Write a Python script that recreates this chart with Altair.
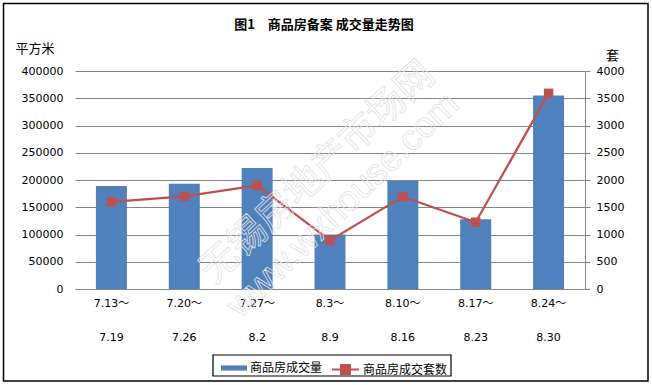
import altair as alt
import pandas as pd

# ---- data ----
period_start = ["7.13～", "7.20～", "7.27～", "8.3～", "8.10～", "8.17～", "8.24～"]
period_end = ["7.19", "7.26", "8.2", "8.9", "8.16", "8.23", "8.30"]
area_sold = [189000, 193000, 222000, 100000, 198000, 128000, 355000]   # 平方米
units_sold = [1600, 1700, 1900, 890, 1695, 1225, 3590]                 # 套

title_text = "图1　商品房备案 成交量走势图"
left_unit = "平方米"
right_unit = "套"
bar_name = "商品房成交量"
line_name = "商品房成交套数"

periods = [f"{a}|{b}" for a, b in zip(period_start, period_end)]
df = pd.DataFrame({"period": periods, "area": area_sold, "units": units_sold})

W, H = 510, 218
PAD_L, PAD_T = 75, 71
FONT_NUM = "DejaVu Sans, Noto Sans CJK SC"
FONT_CJK = "Noto Sans CJK SC"
GRID = "#868686"
BLUE = "#4F81BD"
RED = "#C0504D"

xenc = alt.X(
    "period:N", sort=periods, title=None,
    scale=alt.Scale(paddingInner=0, paddingOuter=0),
    axis=alt.Axis(
        labelExpr="split(datum.label, '|')", labelAngle=0, ticks=False,
        labelPadding=14, labelLineHeight=34, labelFont=FONT_NUM, labelFontSize=11,
        labelColor="#000", domainColor=GRID, labelBaseline="middle",
    ),
)

bars = alt.Chart(df).mark_bar(size=31, color=BLUE).encode(
    x=xenc,
    y=alt.Y(
        "area:Q",
        scale=alt.Scale(domain=[0, 400000]),
        axis=alt.Axis(
            orient="left", values=list(range(0, 400001, 50000)), format="d",
            ticks=False, domain=False, labelPadding=12, gridColor=GRID,
            labelFont=FONT_NUM, labelFontSize=11, labelColor="#000",
            title=left_unit, titleAngle=0, titleX=-60, titleY=-23,
            titleAlign="left", titleBaseline="middle", titleFont=FONT_CJK,
            titleFontSize=13, titleFontWeight="normal",
        ),
    ),
    color=alt.Color(
        "series:N", scale=alt.Scale(range=[BLUE]),
        legend=alt.Legend(
            orient="none", legendX=146, legendY=284, title=None,
            symbolType="M-1,-0.2H1V0.2H-1Z", symbolSize=676,
            symbolStrokeWidth=0, labelFont=FONT_CJK, labelFontSize=12,
            labelColor="#000", labelOffset=3, padding=0,
        ),
    ),
).transform_calculate(series=f"'{bar_name}'")

line = alt.Chart(df).mark_line(
    color=RED, strokeWidth=2.25,
    point=alt.OverlayMarkDef(shape="square", size=90, filled=True, color=RED, opacity=1),
).encode(
    x=xenc,
    y=alt.Y(
        "units:Q",
        scale=alt.Scale(domain=[0, 4000]),
        axis=alt.Axis(
            orient="right", values=list(range(0, 4001, 500)), format="d",
            tickSize=5, tickColor=GRID, domainColor=GRID, labelPadding=6, grid=False,
            labelFont=FONT_NUM, labelFontSize=11, labelColor="#000",
            title=right_unit, titleAngle=0, titleX=27, titleY=-16,
            titleAlign="center", titleBaseline="middle", titleFont=FONT_CJK,
            titleFontSize=13, titleFontWeight="normal",
        ),
    ),
    color=alt.Color(
        "series:N", scale=alt.Scale(range=[RED]),
        legend=alt.Legend(
            orient="none", legendX=256, legendY=284, title=None,
            symbolType="M-1,0H1M-0.33,-0.33H0.33V0.33H-0.33Z", symbolSize=729,
            symbolStrokeWidth=2, symbolFillColor=RED, symbolStrokeColor=RED,
            labelFont=FONT_CJK, labelFontSize=12, labelColor="#000",
            labelOffset=3, padding=0,
        ),
    ),
).transform_calculate(series=f"'{line_name}'")

one = pd.DataFrame({"k": [0]})

title = alt.Chart(one).mark_text(
    text=title_text, font=FONT_CJK, fontSize=13, fontWeight="bold", color="#000",
    align="center", baseline="middle",
).encode(x=alt.value(249), y=alt.value(-46))

wm_cn = alt.Chart(one).mark_text(
    text="无锡房地产市场网", font=FONT_CJK, fontSize=38, angle=317,
    fill="transparent", stroke="#e2e2e2", strokeWidth=0.8, align="center", baseline="middle",
).encode(x=alt.value(318 - PAD_L), y=alt.value(173 - PAD_T))

wm_en = alt.Chart(one).mark_text(
    text="www.wxhouse.com", font="Liberation Sans", fontSize=36, angle=316,
    fill="transparent", stroke="#e2e2e2", strokeWidth=0.8, align="center", baseline="middle",
).encode(x=alt.value(343 - PAD_L), y=alt.value(205 - PAD_T))

legend_box = alt.Chart(one).mark_rect(
    fill="transparent", stroke="#000", strokeWidth=1.2,
).encode(
    x=alt.value(213 - PAD_L), x2=alt.value(451 - PAD_L),
    y=alt.value(355 - PAD_T), y2=alt.value(376 - PAD_T),
)

outer_box = alt.Chart(one).mark_rect(
    fill="transparent", stroke="#000", strokeWidth=1.5,
).encode(
    x=alt.value(3.5 - PAD_L), x2=alt.value(648 - PAD_L),
    y=alt.value(3.5 - PAD_T), y2=alt.value(381 - PAD_T),
)

chart = alt.layer(
    bars, line, wm_cn, wm_en, title, legend_box, outer_box
).resolve_scale(
    y="independent", color="independent"
).properties(
    width=W, height=H,
    autosize=alt.AutoSizeParams(type="none"),
    padding={"left": PAD_L, "top": PAD_T, "right": 652 - PAD_L - W, "bottom": 385 - PAD_T - H},
    background="white",
).configure_view(stroke=None)

chart.save("out.html", embed_options={"renderer": "svg", "actions": False})
